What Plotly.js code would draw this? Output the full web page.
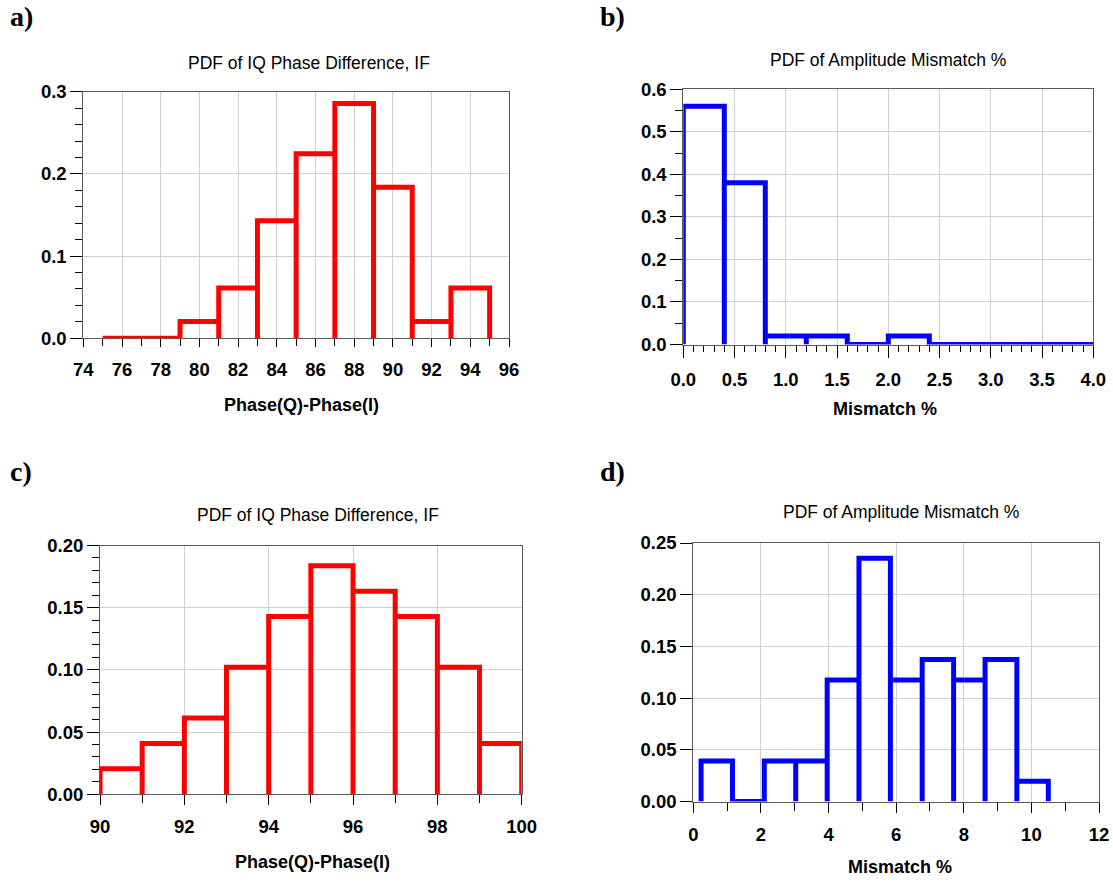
<!DOCTYPE html>
<html><head><meta charset="utf-8">
<script src="https://cdn.plot.ly/plotly-3.0.1.min.js"></script>
<style>html,body{margin:0;padding:0;background:#fff}</style>
</head><body><div id="chart" style="width:1113px;height:882px"></div>
<script>
// ---- data ----
// a) PDF of IQ Phase Difference, IF
const aEdges = [75, 77, 79, 81, 83, 85, 87, 89, 91, 93, 95];
const aProb  = [0, 0, 0.0204, 0.0612, 0.1429, 0.2245, 0.2857, 0.1837, 0.0204, 0.0612];
// b) PDF of Amplitude Mismatch %
const bEdges = [0, 0.4, 0.8, 1.2, 1.6, 2.0, 2.4, 2.8, 3.2, 3.6, 4.0];
const bProb  = [0.56, 0.38, 0.02, 0.02, 0, 0.02, 0, 0, 0, 0];
// c) PDF of IQ Phase Difference, IF
const cEdges = [90, 91, 92, 93, 94, 95, 96, 97, 98, 99, 100];
const cProb  = [0.0204, 0.0408, 0.0612, 0.102, 0.1429, 0.1837, 0.1633, 0.1429, 0.102, 0.0408];
// d) PDF of Amplitude Mismatch %
const dEdges = [0.23, 1.16, 2.10, 3.03, 3.96, 4.90, 5.83, 6.77, 7.70, 8.63, 9.57, 10.50];
const dProb  = [0.0392, 0, 0.0392, 0.0392, 0.1176, 0.2353, 0.1176, 0.1373, 0.1176, 0.1373, 0.0196];

const panelTitles = ["PDF of IQ Phase Difference, IF", "PDF of Amplitude Mismatch %",
                     "PDF of IQ Phase Difference, IF", "PDF of Amplitude Mismatch %"];
const xTitles = ["Phase(Q)-Phase(I)", "Mismatch %", "Phase(Q)-Phase(I)", "Mismatch %"];
const panelLabels = ["a)", "b)", "c)", "d)"];

// ---- helpers ----
function stepPath(edges, probs) {
  const x = [], y = [];
  for (let i = 0; i < probs.length; i++) {
    x.push(edges[i], edges[i], edges[i + 1], edges[i + 1]);
    y.push(0, probs[i], probs[i], 0);
  }
  return {x, y};
}
const W = 1113, H = 882;
const px = v => v / W, py = v => 1 - v / H;

const RED = '#ff0000', BLUE = '#0000ff';
const sets = [
  {e: aEdges, p: aProb, c: RED,  xa: 'x',  ya: 'y'},
  {e: bEdges, p: bProb, c: BLUE, xa: 'x2', ya: 'y2'},
  {e: cEdges, p: cProb, c: RED,  xa: 'x3', ya: 'y3'},
  {e: dEdges, p: dProb, c: BLUE, xa: 'x4', ya: 'y4'}
];
const traces = sets.map(s => {
  const sp = stepPath(s.e, s.p);
  return {type: 'scatter', mode: 'lines', x: sp.x, y: sp.y, xaxis: s.xa, yaxis: s.ya,
          line: {color: s.c, width: 5, shape: 'linear'}, cliponaxis: false,
          hoverinfo: 'skip', showlegend: false};
});

const tickFont = {family: 'Liberation Sans, Arial, sans-serif', size: 18.5, color: '#000', weight: 'bold'};
const gridC = '#cfcfcf', lineC = '#5a5a5a';

function xax(dom, range, dtick, minorDtick, fmt, tl, mtl, anchor) {
  return {domain: dom, range: range, dtick: dtick, tick0: range[0], tickformat: fmt,
    ticks: 'outside', ticklen: tl, tickcolor: '#000', tickwidth: 1,
    minor: {dtick: minorDtick, ticks: 'outside', ticklen: mtl, tickcolor: '#000', showgrid: false},
    showgrid: true, gridcolor: gridC, gridwidth: 1, zeroline: false,
    showline: true, mirror: true, linecolor: lineC, linewidth: 1,
    tickfont: tickFont, ticklabelstandoff: 6, anchor: anchor, fixedrange: true, layer: 'below traces'};
}
function yax(dom, range, dtick, minorDtick, fmt, anchor) {
  const o = {domain: dom, range: range, dtick: dtick, tick0: 0, tickformat: fmt,
    ticks: 'outside', ticklen: 12, tickcolor: '#000', tickwidth: 1,
    showgrid: true, gridcolor: gridC, gridwidth: 1, zeroline: false,
    showline: true, mirror: true, linecolor: lineC, linewidth: 1,
    tickfont: tickFont, ticklabelstandoff: 0, anchor: anchor, fixedrange: true, layer: 'below traces'};
  if (minorDtick) o.minor = {dtick: minorDtick, ticks: 'outside', ticklen: 7, tickcolor: '#000', showgrid: false};
  return o;
}

const layout = {
  width: W, height: H, margin: {l: 0, r: 0, t: 0, b: 0},
  paper_bgcolor: '#fff', plot_bgcolor: '#fff', showlegend: false,
  xaxis:  xax([px(83.3), px(509)],   [74, 96], 2, 1, 'd', 8, 7, 'y'),
  yaxis:  yax([py(338.3), py(91.7)], [0, 0.3], 0.1, 0.02, '.1f', 'x'),
  xaxis2: xax([px(683.3), px(1093.3)], [0, 4], 0.5, 0.1, '.1f', 12, 6, 'y2'),
  yaxis2: yax([py(344.5), py(89.2)],  [0, 0.6], 0.1, 0.05, '.1f', 'x2'),
  xaxis3: xax([px(100), px(521.7)],   [90, 100], 2, 1, 'd', 10, 8, 'y3'),
  yaxis3: yax([py(794.2), py(545.5)], [0, 0.2], 0.05, 0.01, '.2f', 'x3'),
  xaxis4: xax([px(693.3), px(1099)],  [0, 12], 2, 1, 'd', 10, 8, 'y4'),
  yaxis4: yax([py(801.5), py(543)],   [0, 0.25], 0.05, null, '.2f', 'x4'),
  annotations: []
};

const titlePos = [[309, 63.3], [888, 60], [317.5, 515], [901, 511.7]];
const xTitlePos = [[301, 405], [885, 409], [312.5, 861.7], [900, 866.7]];
const labelPos = [[8, 17], [598, 17], [8, 471], [598, 471]];
for (let i = 0; i < 4; i++) {
  layout.annotations.push({xref: 'paper', yref: 'paper', x: px(titlePos[i][0]), y: py(titlePos[i][1]),
    xanchor: 'center', yanchor: 'middle', showarrow: false, text: panelTitles[i],
    font: {family: 'Liberation Sans, Arial, sans-serif', size: 17.5, color: '#000'}});
  layout.annotations.push({xref: 'paper', yref: 'paper', x: px(xTitlePos[i][0]), y: py(xTitlePos[i][1]),
    xanchor: 'center', yanchor: 'middle', showarrow: false, text: xTitles[i],
    font: {family: 'Liberation Sans, Arial, sans-serif', size: 18, color: '#000', weight: 'bold'}});
  layout.annotations.push({xref: 'paper', yref: 'paper', x: px(labelPos[i][0]), y: py(labelPos[i][1]),
    xanchor: 'left', yanchor: 'middle', showarrow: false, text: panelLabels[i],
    font: {family: 'Liberation Serif, Times New Roman, serif', size: 28, color: '#000', weight: 'bold'}});
}

Plotly.newPlot('chart', traces, layout, {staticPlot: true, displayModeBar: false});
</script>
</body></html>
